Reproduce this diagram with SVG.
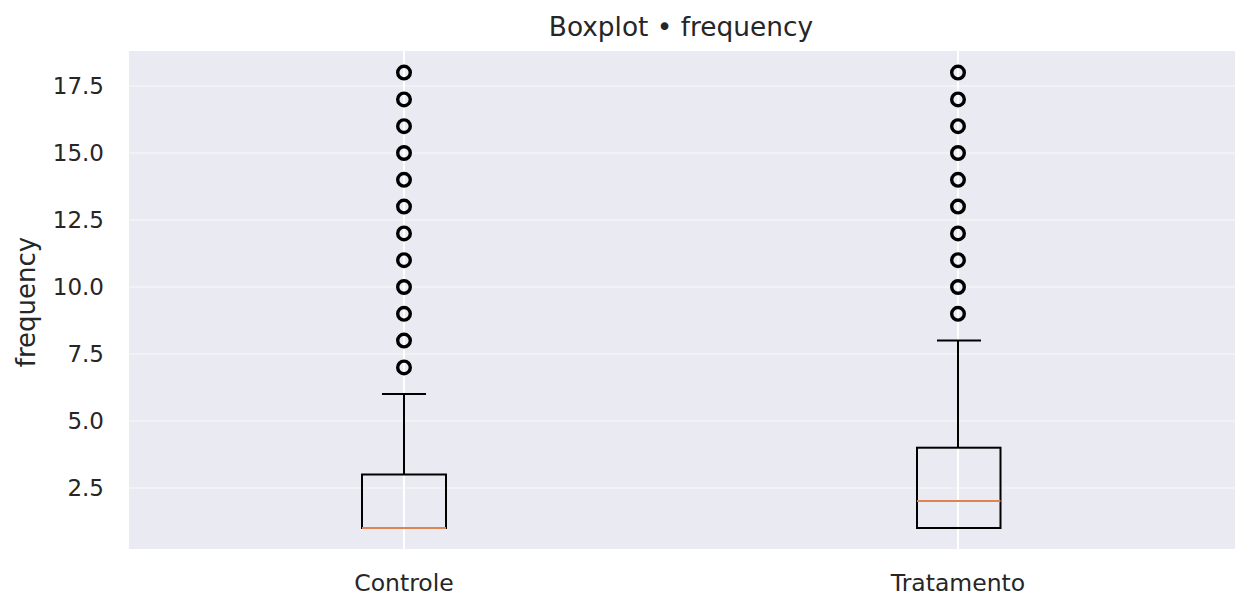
<svg xmlns="http://www.w3.org/2000/svg" width="1252" height="612" viewBox="0 0 1252 612">
<style>
text{font-family:"DejaVu Sans","Liberation Sans",sans-serif;fill:#262626}
.tick{font-size:23px;text-anchor:end}
.xt{font-size:23.5px;text-anchor:middle}
.hg{stroke:#F3F3F7;stroke-width:1.5}
.vg{stroke:#FFFFFF;stroke-width:2}
.bx{fill:none;stroke:#000;stroke-width:2}
.wh{stroke:#000;stroke-width:2;fill:none}
.med{stroke:#DD8452;stroke-width:2}
.fl{fill:none;stroke:#000;stroke-width:3.4}
</style>
<rect width="1252" height="612" fill="#FFFFFF"/>
<g id="axes">
<rect x="129" y="51" width="1106" height="498" fill="#EAEAF2"/>
<g id="grid">
<line class="hg" x1="129" x2="1235" y1="86" y2="86"/>
<line class="hg" x1="129" x2="1235" y1="153" y2="153"/>
<line class="hg" x1="129" x2="1235" y1="220" y2="220"/>
<line class="hg" x1="129" x2="1235" y1="287" y2="287"/>
<line class="hg" x1="129" x2="1235" y1="354" y2="354"/>
<line class="hg" x1="129" x2="1235" y1="421" y2="421"/>
<line class="hg" x1="129" x2="1235" y1="488" y2="488"/>
<line class="vg" x1="404" x2="404" y1="51" y2="549"/>
<line class="vg" x1="958" x2="958" y1="51" y2="549"/>
</g>
<g id="yticks">
<text class="tick" x="104" y="94.4">17.5</text>
<text class="tick" x="104" y="161.4">15.0</text>
<text class="tick" x="104" y="228.4">12.5</text>
<text class="tick" x="104" y="295.4">10.0</text>
<text class="tick" x="104" y="362.4">7.5</text>
<text class="tick" x="104" y="429.4">5.0</text>
<text class="tick" x="104" y="496.4">2.5</text>
</g>
<g id="xticks">
<text class="xt" x="404" y="591">Controle</text>
<text class="xt" x="958" y="591">Tratamento</text>
</g>
<text id="ylabel" transform="translate(35,302) rotate(-90)" font-size="26" text-anchor="middle">frequency</text>
<text id="title" x="681" y="36" font-size="26.4" text-anchor="middle">Boxplot • frequency</text>
</g>
<g id="box-controle">
<line class="wh" x1="404" x2="404" y1="474.5" y2="394"/>
<line class="wh" x1="382" x2="426" y1="394" y2="394"/>
<rect class="bx" x="362" y="474.5" width="84" height="53.5"/>
<line class="med" x1="362" x2="446" y1="528" y2="528"/>
<g class="fl">
<circle cx="404" cy="367.4" r="6.3"/>
<circle cx="404" cy="340.6" r="6.3"/>
<circle cx="404" cy="313.8" r="6.3"/>
<circle cx="404" cy="287" r="6.3"/>
<circle cx="404" cy="260.2" r="6.3"/>
<circle cx="404" cy="233.4" r="6.3"/>
<circle cx="404" cy="206.6" r="6.3"/>
<circle cx="404" cy="179.8" r="6.3"/>
<circle cx="404" cy="153" r="6.3"/>
<circle cx="404" cy="126.2" r="6.3"/>
<circle cx="404" cy="99.4" r="6.3"/>
<circle cx="404" cy="72.6" r="6.3"/>
</g>
</g>
<g id="box-tratamento">
<line class="wh" x1="958" x2="958" y1="447.7" y2="340.4"/>
<line class="wh" x1="937" x2="981" y1="340.4" y2="340.4"/>
<rect class="bx" x="917" y="447.7" width="83.5" height="80.3"/>
<line class="med" x1="917" x2="1000.5" y1="501" y2="501"/>
<g class="fl">
<circle cx="958" cy="313.8" r="6.3"/>
<circle cx="958" cy="287" r="6.3"/>
<circle cx="958" cy="260.2" r="6.3"/>
<circle cx="958" cy="233.4" r="6.3"/>
<circle cx="958" cy="206.6" r="6.3"/>
<circle cx="958" cy="179.8" r="6.3"/>
<circle cx="958" cy="153" r="6.3"/>
<circle cx="958" cy="126.2" r="6.3"/>
<circle cx="958" cy="99.4" r="6.3"/>
<circle cx="958" cy="72.6" r="6.3"/>
</g>
</g>
</svg>
